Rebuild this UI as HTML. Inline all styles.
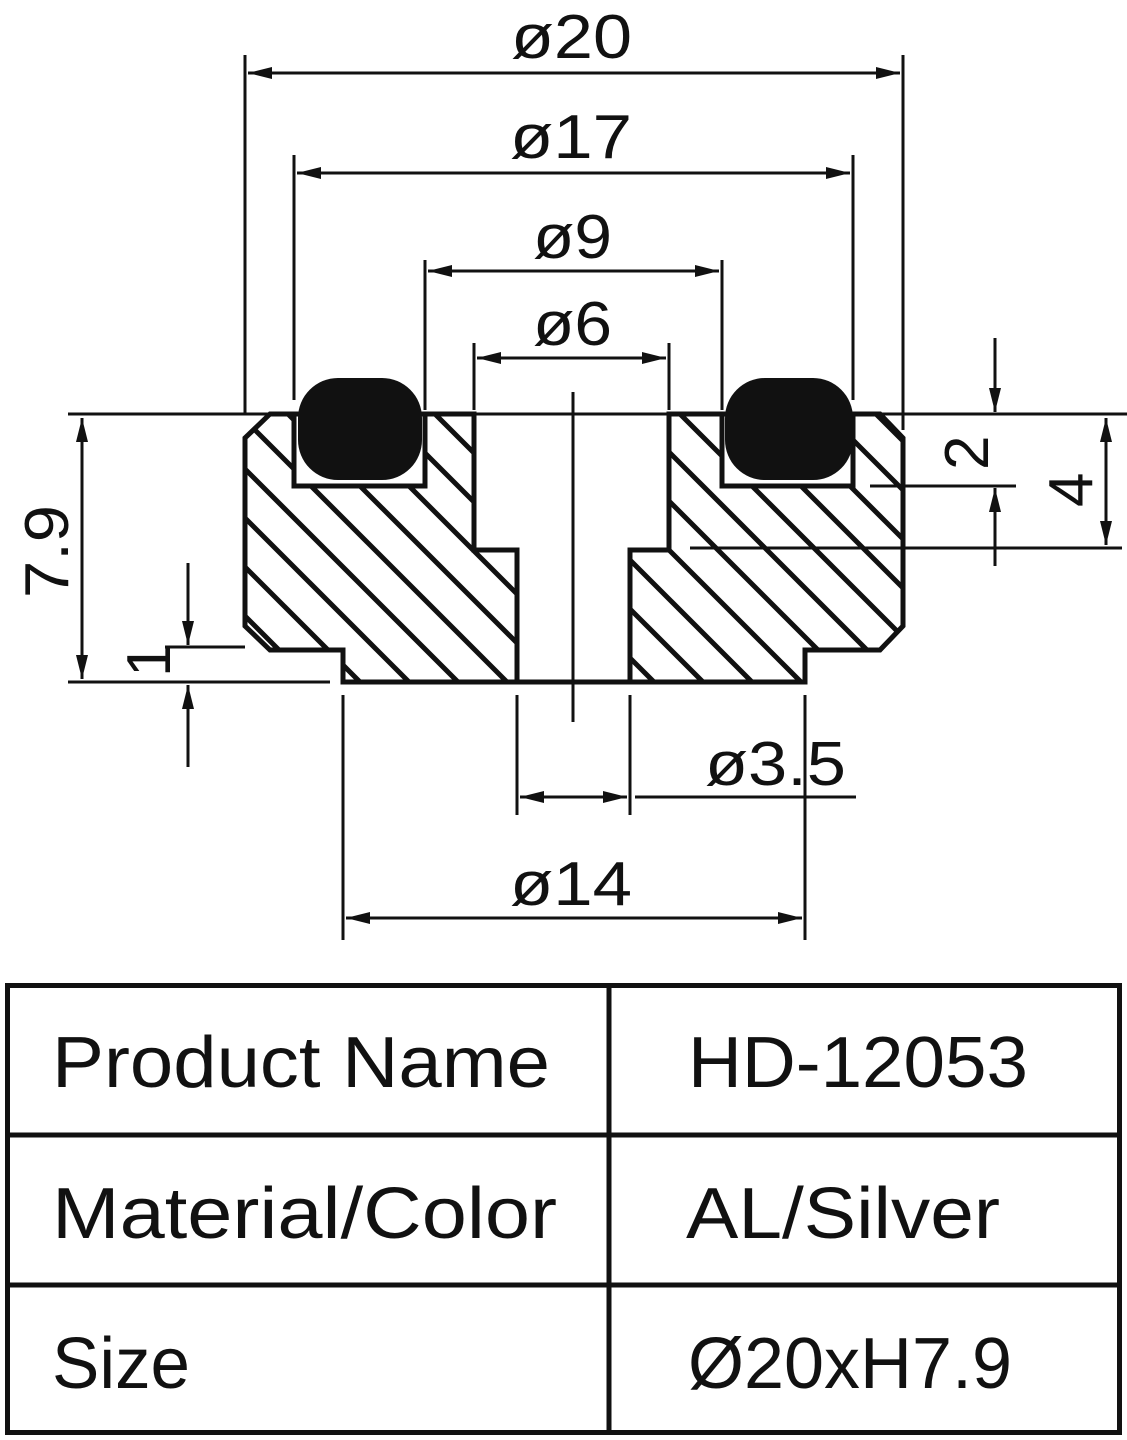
<!DOCTYPE html>
<html><head><meta charset="utf-8"><style>
html,body{margin:0;padding:0;background:#fff;}
svg{display:block;}
text{font-family:"Liberation Sans","DejaVu Sans",sans-serif;fill:#111;}
</style></head><body>
<svg width="1127" height="1440" viewBox="0 0 1127 1440" xmlns="http://www.w3.org/2000/svg">
<defs>
<marker id="a" viewBox="0 0 24 12" refX="24" refY="6" markerWidth="24" markerHeight="12" markerUnits="userSpaceOnUse" orient="auto-start-reverse">
<path d="M0,0 L24,6 L0,12 Z" fill="#111"/></marker>
<clipPath id="body">
<path d="M270,414 L474,414 L474,550 L517,550 L517,682 L343,682 L343,650 L270,650 L245,626 L245,438 Z M294,414 L294,486 L425,486 L425,414 Z" clip-rule="evenodd"/>
<path d="M669,414 L880,414 L903,438 L903,626 L880,650 L805,650 L805,682 L630,682 L630,550 L669,550 Z M722,414 L722,486 L853,486 L853,414 Z" clip-rule="evenodd"/>
</clipPath>
</defs>
<g clip-path="url(#body)" stroke="#111" stroke-width="5">
<line x1="-300" y1="414" x2="300" y2="1014"/>
<line x1="-251" y1="414" x2="349" y2="1014"/>
<line x1="-202" y1="414" x2="398" y2="1014"/>
<line x1="-153" y1="414" x2="447" y2="1014"/>
<line x1="-104" y1="414" x2="496" y2="1014"/>
<line x1="-55" y1="414" x2="545" y2="1014"/>
<line x1="-6" y1="414" x2="594" y2="1014"/>
<line x1="43" y1="414" x2="643" y2="1014"/>
<line x1="92" y1="414" x2="692" y2="1014"/>
<line x1="141" y1="414" x2="741" y2="1014"/>
<line x1="190" y1="414" x2="790" y2="1014"/>
<line x1="239" y1="414" x2="839" y2="1014"/>
<line x1="288" y1="414" x2="888" y2="1014"/>
<line x1="337" y1="414" x2="937" y2="1014"/>
<line x1="386" y1="414" x2="986" y2="1014"/>
<line x1="435" y1="414" x2="1035" y2="1014"/>
<line x1="484" y1="414" x2="1084" y2="1014"/>
<line x1="533" y1="414" x2="1133" y2="1014"/>
<line x1="582" y1="414" x2="1182" y2="1014"/>
<line x1="631" y1="414" x2="1231" y2="1014"/>
<line x1="680" y1="414" x2="1280" y2="1014"/>
<line x1="729" y1="414" x2="1329" y2="1014"/>
<line x1="778" y1="414" x2="1378" y2="1014"/>
<line x1="827" y1="414" x2="1427" y2="1014"/>
<line x1="876" y1="414" x2="1476" y2="1014"/>
</g>
<g stroke="#111" stroke-width="5" fill="none" stroke-linejoin="miter">
<path d="M270,414 L474,414 L474,550 L517,550 L517,682 L343,682 L343,650 L270,650 L245,626 L245,438 Z"/>
<path d="M294,414 L294,486 L425,486 L425,414"/>
<path d="M669,414 L880,414 L903,438 L903,626 L880,650 L805,650 L805,682 L630,682 L630,550 L669,550 Z"/>
<path d="M722,414 L722,486 L853,486 L853,414"/>
<line x1="517" y1="682" x2="630" y2="682"/>
</g>
<rect x="298" y="378" width="124" height="102" rx="40" fill="#111"/>
<rect x="725" y="378" width="128" height="102" rx="40" fill="#111"/>
<g stroke="#111" stroke-width="3" fill="none">
<line x1="68" y1="414" x2="1127" y2="414"/>
<line x1="245" y1="55" x2="245" y2="414"/>
<line x1="903" y1="55" x2="903" y2="430"/>
<line x1="248" y1="73" x2="900" y2="73" marker-start="url(#a)" marker-end="url(#a)"/>
<line x1="294" y1="155" x2="294" y2="400"/>
<line x1="853" y1="155" x2="853" y2="400"/>
<line x1="297" y1="173" x2="850" y2="173" marker-start="url(#a)" marker-end="url(#a)"/>
<line x1="425" y1="260" x2="425" y2="410"/>
<line x1="722" y1="260" x2="722" y2="410"/>
<line x1="428" y1="271" x2="719" y2="271" marker-start="url(#a)" marker-end="url(#a)"/>
<line x1="474" y1="343" x2="474" y2="410"/>
<line x1="669" y1="343" x2="669" y2="410"/>
<line x1="477" y1="358" x2="666" y2="358" marker-start="url(#a)" marker-end="url(#a)"/>
<line x1="573" y1="392" x2="573" y2="722"/>
<line x1="995" y1="338" x2="995" y2="412" marker-end="url(#a)"/>
<line x1="995" y1="566" x2="995" y2="488" marker-end="url(#a)"/>
<line x1="870" y1="486" x2="1016" y2="486"/>
<line x1="690" y1="548" x2="1122" y2="548"/>
<line x1="1106" y1="418" x2="1106" y2="545" marker-start="url(#a)" marker-end="url(#a)"/>
<line x1="82" y1="418" x2="82" y2="679" marker-start="url(#a)" marker-end="url(#a)"/>
<line x1="68" y1="682" x2="330" y2="682"/>
<line x1="165" y1="647" x2="245" y2="647"/>
<line x1="188" y1="563" x2="188" y2="645" marker-end="url(#a)"/>
<line x1="188" y1="767" x2="188" y2="685" marker-end="url(#a)"/>
<line x1="517" y1="695" x2="517" y2="815"/>
<line x1="630" y1="695" x2="630" y2="815"/>
<line x1="520" y1="797" x2="627" y2="797" marker-start="url(#a)" marker-end="url(#a)"/>
<line x1="635" y1="797" x2="856" y2="797"/>
<line x1="343" y1="695" x2="343" y2="940"/>
<line x1="805" y1="695" x2="805" y2="940"/>
<line x1="346" y1="918" x2="802" y2="918" marker-start="url(#a)" marker-end="url(#a)"/>
</g>
<g font-size="62">
<text x="511" y="58" textLength="121" lengthAdjust="spacingAndGlyphs">ø20</text>
<text x="510" y="158" textLength="122" lengthAdjust="spacingAndGlyphs">ø17</text>
<text x="533" y="258" textLength="79" lengthAdjust="spacingAndGlyphs">ø9</text>
<text x="533" y="345" textLength="79" lengthAdjust="spacingAndGlyphs">ø6</text>
<text x="705" y="785" textLength="141" lengthAdjust="spacingAndGlyphs">ø3.5</text>
<text x="510" y="905" textLength="122" lengthAdjust="spacingAndGlyphs">ø14</text>
<text transform="translate(68,598) rotate(-90)" textLength="93" lengthAdjust="spacingAndGlyphs">7.9</text>
<text transform="translate(170,677) rotate(-90)">1</text>
<text transform="translate(988,470) rotate(-90)">2</text>
<text transform="translate(1092,507) rotate(-90)">4</text>
</g>
<g stroke="#111" stroke-width="5" fill="none">
<rect x="7.5" y="985.5" width="1112" height="447"/>
<line x1="609" y1="985" x2="609" y2="1433"/>
<line x1="7" y1="1135" x2="1120" y2="1135"/>
<line x1="7" y1="1285" x2="1120" y2="1285"/>
</g>
<g font-size="72">
<text x="52" y="1087" textLength="498" lengthAdjust="spacingAndGlyphs">Product Name</text>
<text x="688" y="1087" textLength="340" lengthAdjust="spacingAndGlyphs">HD-12053</text>
<text x="52" y="1238" textLength="505" lengthAdjust="spacingAndGlyphs">Material/Color</text>
<text x="686" y="1238" textLength="314" lengthAdjust="spacingAndGlyphs">AL/Silver</text>
<text x="52" y="1388" textLength="138" lengthAdjust="spacingAndGlyphs">Size</text>
<text x="688" y="1388" textLength="324" lengthAdjust="spacingAndGlyphs">Ø20xH7.9</text>
</g>
</svg>
</body></html>
